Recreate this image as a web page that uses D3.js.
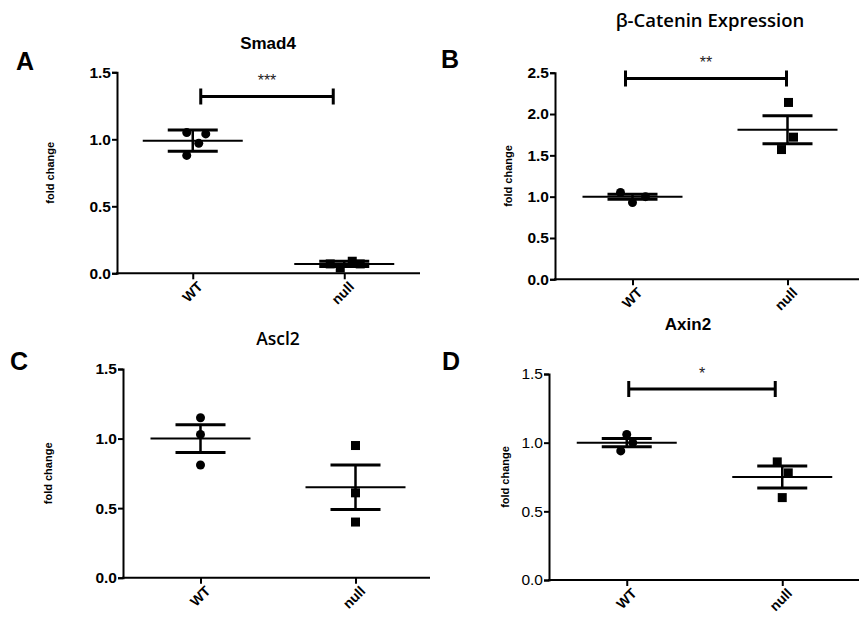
<!DOCTYPE html>
<html>
<head>
<meta charset="utf-8">
<script src="https://cdn.jsdelivr.net/npm/d3@7"></script>
<style>
  body { margin: 0; background: #fff; }
  svg { display: block; font-family: Arial, "Liberation Sans", sans-serif; }
</style>
</head>
<body>
<svg id="chart" width="859" height="620"></svg>
<script>
// groups on the x axis
const groups = ["WT", "null"];

// Smad4 (A)
const smad4WT = [1.05, 1.04, 0.97, 0.88];
const smad4Null = [0.07, 0.04, 0.09, 0.07];
const smad4Mean = [0.99, 0.07];
const smad4Err = [0.08, 0.02];

// beta-catenin (B)
const catWT = [1.05, 0.93, 1.0];
const catNull = [2.14, 1.72, 1.57];
const catMean = [1.0, 1.81];
const catErr = [0.03, 0.17];

// Ascl2 (C)
const asclWT = [1.15, 1.03, 0.81];
const asclNull = [0.95, 0.61, 0.40];
const asclMean = [1.0, 0.65];
const asclErr = [0.10, 0.16];

// Axin2 (D)
const axinWT = [1.06, 1.0, 0.94];
const axinNull = [0.86, 0.78, 0.60];
const axinMean = [1.0, 0.75];
const axinErr = [0.03, 0.08];

// y ticks
const ticks15 = [0, 0.5, 1.0, 1.5];
const ticks25 = [0, 0.5, 1.0, 1.5, 2.0, 2.5];

const svg = d3.select("#chart");

function drawPanel(p) {
    const g = svg.append("g");
    // scales
    const x = d3.scalePoint().domain(groups).range([p.left, p.right]).padding(0.5);
    const y = d3.scaleLinear().domain([0, p.yMax]).range([p.bottom, p.top]);

    // y axis
    const ay = g.append("g")
        .attr("transform", `translate(${p.left},0)`)
        .call(d3.axisLeft(y).tickValues(p.ticks).tickFormat(d3.format(".1f")).tickSizeOuter(0).tickSize(5).tickPadding(1));
    ay.select(".domain").attr("stroke-width", 2).attr("stroke", "#000");
    ay.selectAll(".tick line").attr("stroke-width", 2);
    ay.selectAll("text")
        .attr("fill", "#000")
        .style("font-size", "15.5px")
        .style("font-weight", p.tickBold ? "bold" : "normal");

    // x axis
    const ax = g.append("g")
        .attr("transform", `translate(0,${p.bottom})`)
        .call(d3.axisBottom(x).tickSizeOuter(0).tickSize(6).tickPadding(3));
    ax.select(".domain").attr("stroke-width", 2).attr("stroke", "#000")
        .attr("d", `M${p.left - 1},0H${p.axisEnd}`);
    ax.selectAll(".tick line").attr("stroke-width", 2);
    ax.selectAll("text")
        .attr("fill", "#000")
        .style("font-size", "14px")
        .style("font-weight", "bold")
        .style("text-anchor", "end")
        .attr("dx", "-.2em")
        .attr("dy", ".6em")
        .attr("transform", "rotate(-45)");

    // y label
    g.append("text")
        .attr("transform", `translate(${p.labelX + 4},${(p.top + p.bottom) / 2}) rotate(-90)`)
        .attr("text-anchor", "middle")
        .style("font-size", "11px")
        .style("font-weight", "bold")
        .text("fold change");

    // title and panel letter
    g.append("text")
        .attr("x", p.titleX).attr("y", p.titleY)
        .attr("text-anchor", "middle")
        .style("font-family", p.titleFont || null)
        .style("font-size", p.titleSize + "px")
        .style("font-weight", p.titleWeight)
        .text(p.title);
    g.append("text")
        .attr("x", p.letterX).attr("y", p.letterY)
        .style("font-size", "25px")
        .style("font-weight", "bold")
        .text(p.letter);

    // mean and error bars
    groups.forEach((grp, i) => {
        const cx = x(grp);
        const m = p.mean[i], e = p.err[i];
        g.append("line")
            .attr("x1", cx - 50).attr("x2", cx + 50)
            .attr("y1", y(m)).attr("y2", y(m))
            .attr("stroke", "#000").attr("stroke-width", 2);
        g.append("line")
            .attr("x1", cx).attr("x2", cx)
            .attr("y1", y(m - e)).attr("y2", y(m + e))
            .attr("stroke", "#000").attr("stroke-width", 2.5);
        [m - e, m + e].forEach(v => {
            g.append("line")
                .attr("x1", cx - 25).attr("x2", cx + 25)
                .attr("y1", y(v)).attr("y2", y(v))
                .attr("stroke", "#000").attr("stroke-width", 3);
        });
    });

    // WT circles
    g.selectAll(".dot")
        .data(p.wt)
        .enter()
        .append("circle")
        .attr("cx", (d, i) => x("WT") + p.jitterWT[i])
        .attr("cy", d => y(d))
        .attr("r", 4.5)
        .attr("fill", "#000");

    // null squares
    g.selectAll(".sq")
        .data(p.nul)
        .enter()
        .append("rect")
        .attr("x", (d, i) => x("null") + p.jitterNull[i] - 4.5)
        .attr("y", d => y(d) - 4.5)
        .attr("width", 9).attr("height", 9)
        .attr("fill", "#000");

    // significance bar
    if (p.sig) {
        const x1 = x("WT") + p.sigInset[0], x2 = x("null") + p.sigInset[1];
        const sy = y(p.sigY);
        g.append("path")
            .attr("d", `M${x1},${sy - 8}V${sy + 8}M${x1},${sy}H${x2}M${x2},${sy - 8}V${sy + 8}`)
            .attr("fill", "none")
            .attr("stroke", "#000").attr("stroke-width", 3);
        g.append("text")
            .attr("x", (x1 + x2) / 2).attr("y", sy - 10)
            .attr("text-anchor", "middle")
            .style("font-size", "16px")
            .attr("fill", "#222")
            .text(p.sig);
    }
}

drawPanel({
    left: 117, right: 420, axisEnd: 420, top: 72.3, bottom: 273.3, yMax: 1.5, ticks: ticks15, tickBold: true,
    labelX: 50, title: "Smad4", titleX: 268, titleY: 49, titleSize: 17, titleWeight: "bold",
    letter: "A", letterX: 16, letterY: 70,
    wt: smad4WT, nul: smad4Null, mean: smad4Mean, err: smad4Err,
    jitterWT: [-6, 13, 6, -6], jitterNull: [-14, -4, 8, 16],
    sig: "***", sigY: 1.32, sigInset: [8, -11]
});

drawPanel({
    left: 555, right: 865, axisEnd: 859, top: 72.7, bottom: 279.3, yMax: 2.5, ticks: ticks25, tickBold: true,
    labelX: 508, title: "β-Catenin Expression", titleX: 710, titleY: 27, titleSize: 18.5,
    titleWeight: 600, titleFont: "'Open Sans', Arial, sans-serif",
    letter: "B", letterX: 441, letterY: 68,
    wt: catWT, nul: catNull, mean: catMean, err: catErr,
    jitterWT: [-12, 0, 13], jitterNull: [1, 6, -6],
    sig: "**", sigY: 2.43, sigInset: [-7, -1]
});

drawPanel({
    left: 123, right: 433, axisEnd: 430, top: 369, bottom: 577.7, yMax: 1.5, ticks: ticks15, tickBold: true,
    labelX: 48, title: "Ascl2", titleX: 278, titleY: 345, titleSize: 17.5,
    titleWeight: 600, titleFont: "'Open Sans', Arial, sans-serif",
    letter: "C", letterX: 10, letterY: 370,
    wt: asclWT, nul: asclNull, mean: asclMean, err: asclErr,
    jitterWT: [0, 0, 0], jitterNull: [0, 0, 0],
    sig: null
});

drawPanel({
    left: 549, right: 860, axisEnd: 859, top: 374, bottom: 580, yMax: 1.5, ticks: ticks15, tickBold: false,
    labelX: 505, title: "Axin2", titleX: 688, titleY: 330, titleSize: 17, titleWeight: "bold",
    letter: "D", letterX: 442, letterY: 370,
    wt: axinWT, nul: axinNull, mean: axinMean, err: axinErr,
    jitterWT: [0, 6, -6], jitterNull: [-5, 6, 0],
    sig: "*", sigY: 1.39, sigInset: [2, -7]
});
</script>
</body>
</html>
